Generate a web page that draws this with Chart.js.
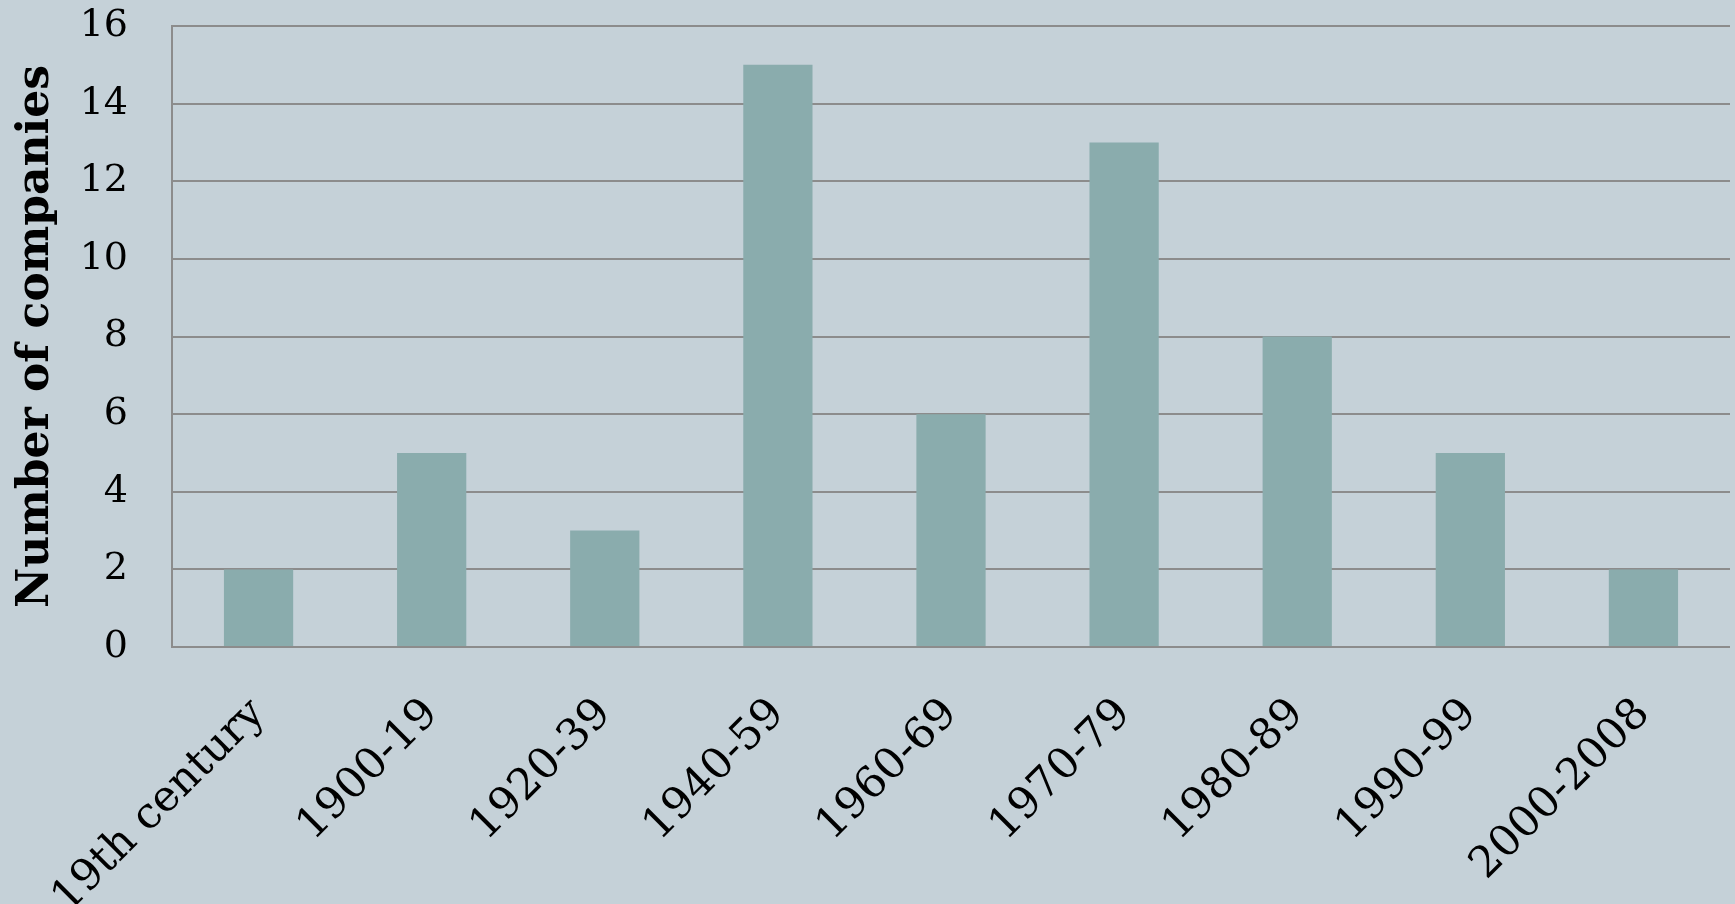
<!DOCTYPE html>
<html>
<head>
<meta charset="utf-8">
<script src="https://cdn.jsdelivr.net/npm/chart.js@4/dist/chart.umd.min.js"></script>
<style>
  html, body { margin: 0; padding: 0; background: #c5d1d8; overflow: hidden; }
  #wrap { width: 1735px; height: 904px; position: relative; }
</style>
</head>
<body>
<div id="wrap"><canvas id="c"></canvas></div>
<script>
const categories = ["19th century", "1900-19", "1920-39", "1940-59", "1960-69", "1970-79", "1980-89", "1990-99", "2000-2008"];
const companies = [2, 5, 3, 15, 6, 13, 8, 5, 2];
const yTicks = [0, 2, 4, 6, 8, 10, 12, 14, 16];
const yTitle = "Number of companies";

const FONT = "'DejaVu Serif', 'Liberation Serif', serif";

new Chart(document.getElementById('c'), {
  type: 'bar',
  data: {
    labels: categories,
    datasets: [{
      data: companies,
      backgroundColor: '#8aacad',
      borderWidth: 0,
      categoryPercentage: 0.4,
      barPercentage: 1.0
    }]
  },
  options: {
    responsive: true,
    maintainAspectRatio: false,
    animation: false,
    devicePixelRatio: 1,
    layout: { padding: { top: 26, right: 5, left: 0, bottom: 0 } },
    plugins: { legend: { display: false }, tooltip: { enabled: false } },
    scales: {
      x: {
        grid: { display: false, drawTicks: false },
        border: { display: false },
        ticks: {
          color: '#000',
          font: { family: FONT, size: 43 },
          maxRotation: 45, minRotation: 45,
          autoSkip: false,
          padding: 42
        },
        afterFit: (s) => { s.height = 257; s.paddingTop = 0; s.paddingBottom = 0; s.paddingLeft = 0; s.paddingRight = 0; }
      },
      y: {
        min: 0, max: 16,
        afterBuildTicks: (s) => { s.ticks = yTicks.map(v => ({ value: v })); },
        grid: { color: '#8c8c8c', lineWidth: 2, drawTicks: false },
        border: { display: true, color: '#8c8c8c', width: 2 },
        ticks: {
          color: '#000',
          font: { family: FONT, size: 38 },
          padding: 44
        },
        title: {
          display: true,
          text: yTitle,
          color: '#000',
          font: { family: FONT, size: 44, weight: 'bold', lineHeight: 1 },
          padding: { top: 15, bottom: 0 }
        },
        afterFit: (s) => { s.width = 172; s.paddingTop = 0; s.paddingBottom = 0; }
      }
    }
  }
});
</script>
</body>
</html>
